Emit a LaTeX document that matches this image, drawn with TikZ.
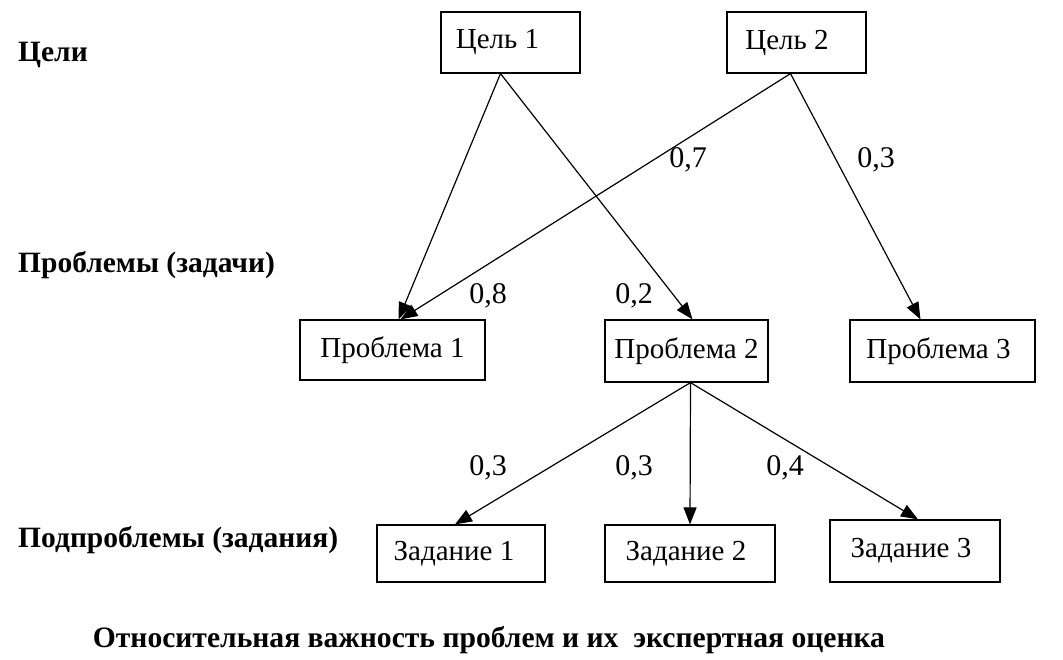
\documentclass[tikz,border=0pt]{standalone}
\usepackage{fontspec}
\setmainfont{Liberation Serif}
\usetikzlibrary{arrows.meta}
\begin{document}
\begin{tikzpicture}[x=1pt,y=-1pt,
  box/.style={draw,line width=1.2pt,rectangle,inner sep=0pt,font=\fontsize{29}{32}\selectfont},
  lbl/.style={font=\fontsize{30}{32}\selectfont,inner sep=0pt},
  side/.style={font=\bfseries\fontsize{29.5}{32}\selectfont,anchor=west,inner sep=0pt},
  arr/.style={line width=1.2pt,-{Triangle[length=17pt,width=13pt]}}]
\useasboundingbox (0,0) rectangle (1063,660);
% boxes
\node[box,minimum width=139pt,minimum height=61pt] (c1) at (510.5,42.5) {Цель 1\hspace*{26pt}};
\node[box,minimum width=139pt,minimum height=61pt] (c2) at (796.5,42.5) {Цель 2\hspace*{19pt}};
\node[box,minimum width=185pt,minimum height=60pt] (p1) at (392.5,350) {Проблема 1};
\node[box,minimum width=163pt,minimum height=62pt] (p2) at (686.5,351) {Проблема 2};
\node[box,minimum width=185pt,minimum height=62pt] (p3) at (942.5,351) {Проблема 3\hspace*{8pt}};
\node[box,minimum width=168pt,minimum height=57pt] (z1) at (461,553.5) {Задание 1\hspace*{14pt}};
\node[box,minimum width=170pt,minimum height=57pt] (z2) at (690,553.5) {Задание 2\hspace*{8pt}};
\node[box,minimum width=170pt,minimum height=62pt] (z3) at (915,551) {\raisebox{6pt}{Задание 3}\hspace*{8pt}};
% side labels
\node[side] (s1) at (18,55) {Цели};
\node[side] (s2) at (18,265) {Проблемы (задачи)};
\node[side] (s3) at (18,540) {Подпроблемы (задания)};
\node[font=\bfseries\fontsize{29.6}{32}\selectfont,inner sep=0pt] (cap) at (489,640) {Относительная важность проблем и их\ \ экспертная оценка};
% arrows
\draw[arr] ([xshift=-10pt]c1.south) -- ([xshift=6pt]p1.north);
\draw[arr] ([xshift=-10pt]c1.south) -- ([xshift=6pt]p2.north);
\draw[arr] ([xshift=-6pt]c2.south) -- ([xshift=8pt]p1.north);
\draw[arr] ([xshift=-6pt]c2.south) -- ([xshift=-22pt]p3.north);
\draw[arr] ([xshift=4pt]p2.south) -- ([xshift=-6pt]z1.north);
\draw[arr] ([xshift=4pt]p2.south) -- (z2.north);
\draw[arr] ([xshift=4pt]p2.south) -- ([xshift=3pt]z3.north);
% weights
\node[lbl] (w1) at (688,160) {0,7};
\node[lbl] (w2) at (876,160) {0,3};
\node[lbl] (w3) at (488,296) {0,8};
\node[lbl] (w4) at (634,296) {0,2};
\node[lbl] (w5) at (488,468) {0,3};
\node[lbl] (w6) at (634,468) {0,3};
\node[lbl] (w7) at (785,468) {0,4};
\end{tikzpicture}
\end{document}
